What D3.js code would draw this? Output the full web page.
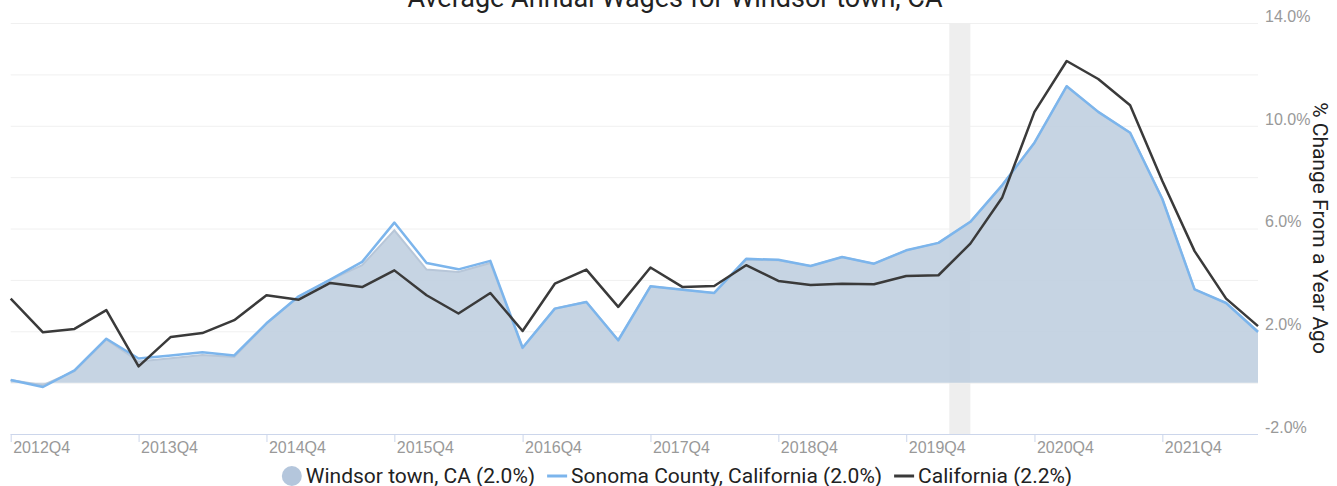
<!DOCTYPE html>
<html>
<head>
<meta charset="utf-8">
<script src="https://cdn.jsdelivr.net/npm/d3@7"></script>
<style>
  body { margin: 0; background: #fff; }
  svg { font-family: Roboto, "Liberation Sans", sans-serif; display: block; }
  .grid line { stroke: #f0f0f0; stroke-width: 1; }
  .grid .domain { display: none; }
  .x.axis text { fill: #999; font-size: 16px; }
  .y.axis text { fill: #999; font-size: 16px; }
  .legend text { fill: #222; font-size: 21px; }
</style>
</head>
<body>
<script>
// quarterly % change from a year ago
const quarters = [
  '2012Q4','2013Q1','2013Q2','2013Q3','2013Q4','2014Q1','2014Q2','2014Q3',
  '2014Q4','2015Q1','2015Q2','2015Q3','2015Q4','2016Q1','2016Q2','2016Q3',
  '2016Q4','2017Q1','2017Q2','2017Q3','2017Q4','2018Q1','2018Q2','2018Q3',
  '2018Q4','2019Q1','2019Q2','2019Q3','2019Q4','2020Q1','2020Q2','2020Q3',
  '2020Q4','2021Q1','2021Q2','2021Q3','2021Q4','2022Q1','2022Q2','2022Q3'
]
const windsor = [
  0.1, -0.1, 0.45, 1.68, 0.82, 0.95, 1.08, 1.0,
  2.3, 3.35, 4.0, 4.57, 5.93, 4.4, 4.31, 4.66,
  1.36, 2.88, 3.14, 1.65, 3.75, 3.62, 3.49, 4.78,
  4.76, 4.54, 4.89, 4.63, 5.15, 5.44, 6.26, 7.69,
  9.34, 11.54, 10.54, 9.73, 7.15, 3.63, 3.1, 2.0
]
const sonoma = [
  0.1, -0.17, 0.48, 1.71, 0.94, 1.06, 1.18, 1.06,
  2.31, 3.36, 4.01, 4.7, 6.23, 4.66, 4.41, 4.74,
  1.36, 2.88, 3.14, 1.65, 3.75, 3.62, 3.49, 4.82,
  4.78, 4.54, 4.89, 4.63, 5.15, 5.44, 6.26, 7.69,
  9.34, 11.54, 10.54, 9.73, 7.15, 3.63, 3.1, 1.97
]
const california = [
  3.27, 1.96, 2.09, 2.82, 0.63, 1.78, 1.93, 2.43,
  3.4, 3.23, 3.88, 3.72, 4.37, 3.4, 2.69, 3.49,
  2.01, 3.85, 4.4, 2.95, 4.48, 3.72, 3.76, 4.57,
  3.96, 3.8, 3.85, 3.83, 4.15, 4.18, 5.41, 7.21,
  10.54, 12.52, 11.82, 10.8, 7.85, 5.12, 3.27, 2.2
]
const gridTicks = [-2, 0, 2, 4, 6, 8, 10, 12, 14]
const labelTicks = [-2, 2, 6, 10, 14]
const recession = ['2020-02-01', '2020-04-01']
const legendItems = [
  {name: 'Windsor town, CA (2.0%)', type: 'area'},
  {name: 'Sonoma County, California (2.0%)', type: 'line', color: '#7cb5ec'},
  {name: 'California (2.2%)', type: 'line', color: '#3a3a3a'}
]

function parseQuarter(q) {
  return new Date(+q.slice(0, 4), (+q.slice(5) - 1) * 3, 1)
}

const W = 1337, H = 486
let margin = {top: 23, right: 79, bottom: 52, left: 10.7},
  width = W - margin.left - margin.right,
  height = H - margin.top - margin.bottom

const dates = quarters.map(parseQuarter)

let x = d3.scaleTime()
    .domain(d3.extent(dates))
    .range([0, width])

let y = d3.scaleLinear()
    .domain([-2, 14])
    .range([height, 0])

let svg = d3.select('body').append('svg')
    .attr('width', W)
    .attr('height', H)

let g = svg.append('g')
    .attr('transform', `translate(${margin.left},${margin.top})`)

// title (partly cut off at the top)
svg.append('text')
    .attr('x', 675)
    .attr('y', 7)
    .attr('text-anchor', 'middle')
    .style('font-size', '27px')
    .style('fill', '#222')
    .text('Average Annual Wages for Windsor town, CA')

// gridlines
g.append('g')
    .attr('class', 'grid')
    .call(d3.axisLeft(y).tickValues(gridTicks).tickSize(-width).tickFormat(''))

// recession band
g.append('rect')
    .attr('x', x(new Date(recession[0])))
    .attr('y', 0)
    .attr('width', x(new Date(recession[1])) - x(new Date(recession[0])))
    .attr('height', height)
    .style('fill', '#eeeeee')

// windsor area
let area = d3.area()
    .x((d, i) => x(dates[i]))
    .y0(y(0))
    .y1(d => y(d))

g.append('path')
    .datum(windsor)
    .attr('d', area)
    .style('fill', 'rgb(190,206,223)')
    .style('fill-opacity', 0.88)

let line = d3.line()
    .x((d, i) => x(dates[i]))
    .y(d => y(d))

g.append('path')
    .datum(windsor)
    .attr('d', line)
    .style('fill', 'none')
    .style('stroke', '#b7c6d8')
    .style('stroke-width', 2)

g.append('path')
    .datum(sonoma)
    .attr('d', line)
    .style('fill', 'none')
    .style('stroke', '#7cb5ec')
    .style('stroke-width', 2.5)
    .style('stroke-linejoin', 'round')

g.append('path')
    .datum(california)
    .attr('d', line)
    .style('fill', 'none')
    .style('stroke', '#3a3a3a')
    .style('stroke-width', 2.5)
    .style('stroke-linejoin', 'round')

// x axis
let xAxis = d3.axisBottom(x)
    .tickValues(dates.filter((d, i) => quarters[i].endsWith('Q4')))
    .tickSize(8)
    .tickFormat(d => quarters[dates.findIndex(e => +e === +d)])

let xg = g.append('g')
    .attr('class', 'x axis')
    .attr('transform', `translate(0,${height})`)
    .call(xAxis)
xg.select('.domain').style('stroke', '#ccd6eb').attr('d', `M0,0.5H${width}`)
xg.selectAll('.tick line').style('stroke', '#ccd6eb')
xg.selectAll('.tick text')
    .attr('text-anchor', 'start')
    .attr('x', 2)
    .attr('y', 8)
    .attr('dy', '0.71em')

// y axis labels on the right
let yg = g.append('g')
    .attr('class', 'y axis')
    .attr('transform', `translate(${width},0)`)
    .call(d3.axisRight(y).tickValues(labelTicks).tickSize(0).tickFormat(d => d.toFixed(1) + '%'))
yg.select('.domain').remove()
yg.selectAll('.tick text')
    .attr('x', 7)
    .attr('dy', '-0.1em')

// y label
svg.append('text')
    .attr('transform', `translate(1313,228) rotate(90)`)
    .attr('text-anchor', 'middle')
    .style('font-size', '21px')
    .style('fill', '#222')
    .text('% Change From a Year Ago')

// legend
let legend = svg.append('g').attr('class', 'legend')
let cx = 0
legendItems.forEach((d, i) => {
  let item = legend.append('g').attr('transform', `translate(${cx},0)`)
  if (d.type === 'area') {
    item.append('circle')
        .attr('cx', 10).attr('cy', 0).attr('r', 10)
        .style('fill', '#b4c6dc')
  } else {
    item.append('line')
        .attr('x1', 0).attr('x2', 20).attr('y1', 0).attr('y2', 0)
        .style('stroke', d.color).style('stroke-width', 3)
  }
  let t = item.append('text')
      .attr('x', 24)
      .attr('dy', '0.35em')
      .text(d.name)
  cx += 24 + t.node().getComputedTextLength() + 12
})
const total = cx - 12
legend.attr('transform', `translate(${677 - total / 2},476)`)
</script>
</body>
</html>
